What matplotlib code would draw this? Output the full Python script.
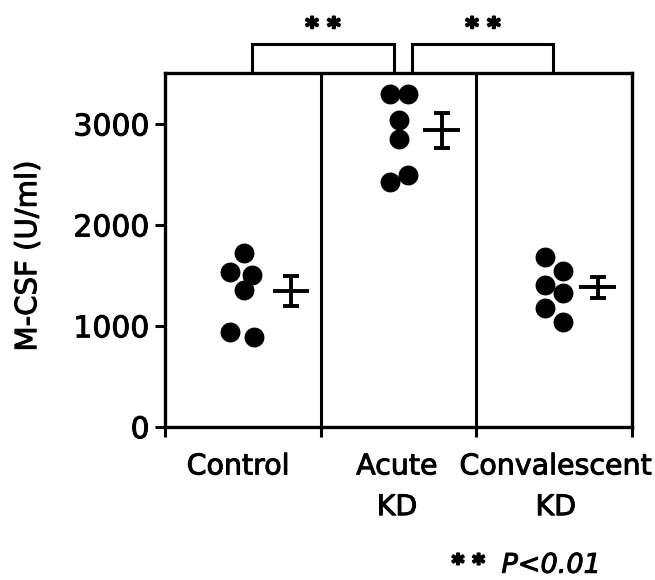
import matplotlib
matplotlib.use("Agg")
import matplotlib.pyplot as plt
import matplotlib.patheffects as pe
import numpy as np

plt.rcParams['font.family'] = ['DejaVu Sans']

# ---- data ----
groups = ["Control", "Acute\nKD", "Convalescent\nKD"]
control_vals = [1717, 1535, 1502, 1353, 940, 891]
acute_vals = [3301, 3301, 3044, 2846, 2492, 2426]
conv_vals = [1683, 1545, 1403, 1321, 1172, 1040]
means = [1345, 2937, 1384]
sems = [150, 172, 104]
y_ticks = [0, 1000, 2000, 3000]
sig_label = "* *"
footnote_stars = "* *"
footnote_p = "P<0.01"

# horizontal placement of dots within each panel (layout)
control_dx = [0.51, 0.42, 0.56, 0.51, 0.42, 0.57]
acute_dx = [0.445, 0.563, 0.505, 0.505, 0.563, 0.445]
conv_dx = [0.441, 0.555, 0.441, 0.555, 0.441, 0.555]
err_dx = [0.81, 0.777, 0.78]

heavy = [pe.withStroke(linewidth=0.7, foreground='black')]
star_fx = [pe.withStroke(linewidth=1.6, foreground='black')]

fig = plt.figure(figsize=(6.55, 5.8), dpi=100)
ax = fig.add_axes([0.2519, 0.2643, 0.713, 0.609])

all_vals = [control_vals, acute_vals, conv_vals]
all_dx = [control_dx, acute_dx, conv_dx]
for i, (vals, dx) in enumerate(zip(all_vals, all_dx)):
    xs = [i + d for d in dx]
    ax.scatter(xs, vals, s=205, color='black', zorder=3, linewidths=0)
    xe = i + err_dx[i]
    ax.errorbar([xe], [means[i]], yerr=[sems[i]], fmt='none', ecolor='black',
                elinewidth=2.8, capsize=6, capthick=2.8, zorder=3)
    ax.plot([xe - 0.118, xe + 0.118], [means[i], means[i]], color='black',
            lw=2.8, solid_capstyle='butt', zorder=3)

# panel dividers
for xd in [1, 2]:
    ax.axvline(xd, color='black', lw=2.2, zorder=2)

ax.set_xlim(0, 3)
ax.set_ylim(0, 3500)
ax.set_yticks(y_ticks)
ax.set_yticklabels([str(t) for t in y_ticks], fontsize=21.5)
ax.set_xticks([0, 1, 2, 3])
ax.set_xticklabels([])
ax.set_xticks([0.47, 1.49, 2.51], groups, minor=True)
ax.tick_params(axis='x', which='minor', length=0, pad=18.5, labelsize=20.5)
for lab in ax.get_xticklabels(minor=True):
    lab.set_linespacing(1.58)
    lab.set_path_effects(heavy)
for lab in ax.get_yticklabels():
    lab.set_path_effects(heavy)
ax.tick_params(axis='x', which='major', direction='out', length=7, width=2.2)
ax.tick_params(axis='y', direction='out', length=7, width=2.2, pad=4)
for sp in ax.spines.values():
    sp.set_linewidth(2.4)

ax.set_ylabel("M-CSF (U/ml)", fontsize=21, path_effects=heavy)
ax.yaxis.set_label_coords(-0.263, 0.483)

# significance brackets
br = [(0.559, 1.471), (1.587, 2.493)]
for (a, b) in br:
    ax.plot([a, a, b, b], [3500, 3790, 3790, 3500], color='black', lw=2.2,
            clip_on=False, solid_joinstyle='miter')
for xs in [1.015, 2.043]:
    ax.text(xs, 3880, sig_label, ha='center', va='baseline', fontsize=18,
            fontweight='bold', clip_on=False, path_effects=star_fx)

fig.text(468.5 / 655, 0.0155, footnote_stars, ha='center', va='baseline',
         fontsize=17, fontweight='bold', path_effects=star_fx)
fig.text(501.5 / 655, 0.0125, footnote_p, ha='left', va='baseline',
         fontsize=19.5, style='italic', path_effects=heavy)

fig.savefig("out.png", dpi=100)
